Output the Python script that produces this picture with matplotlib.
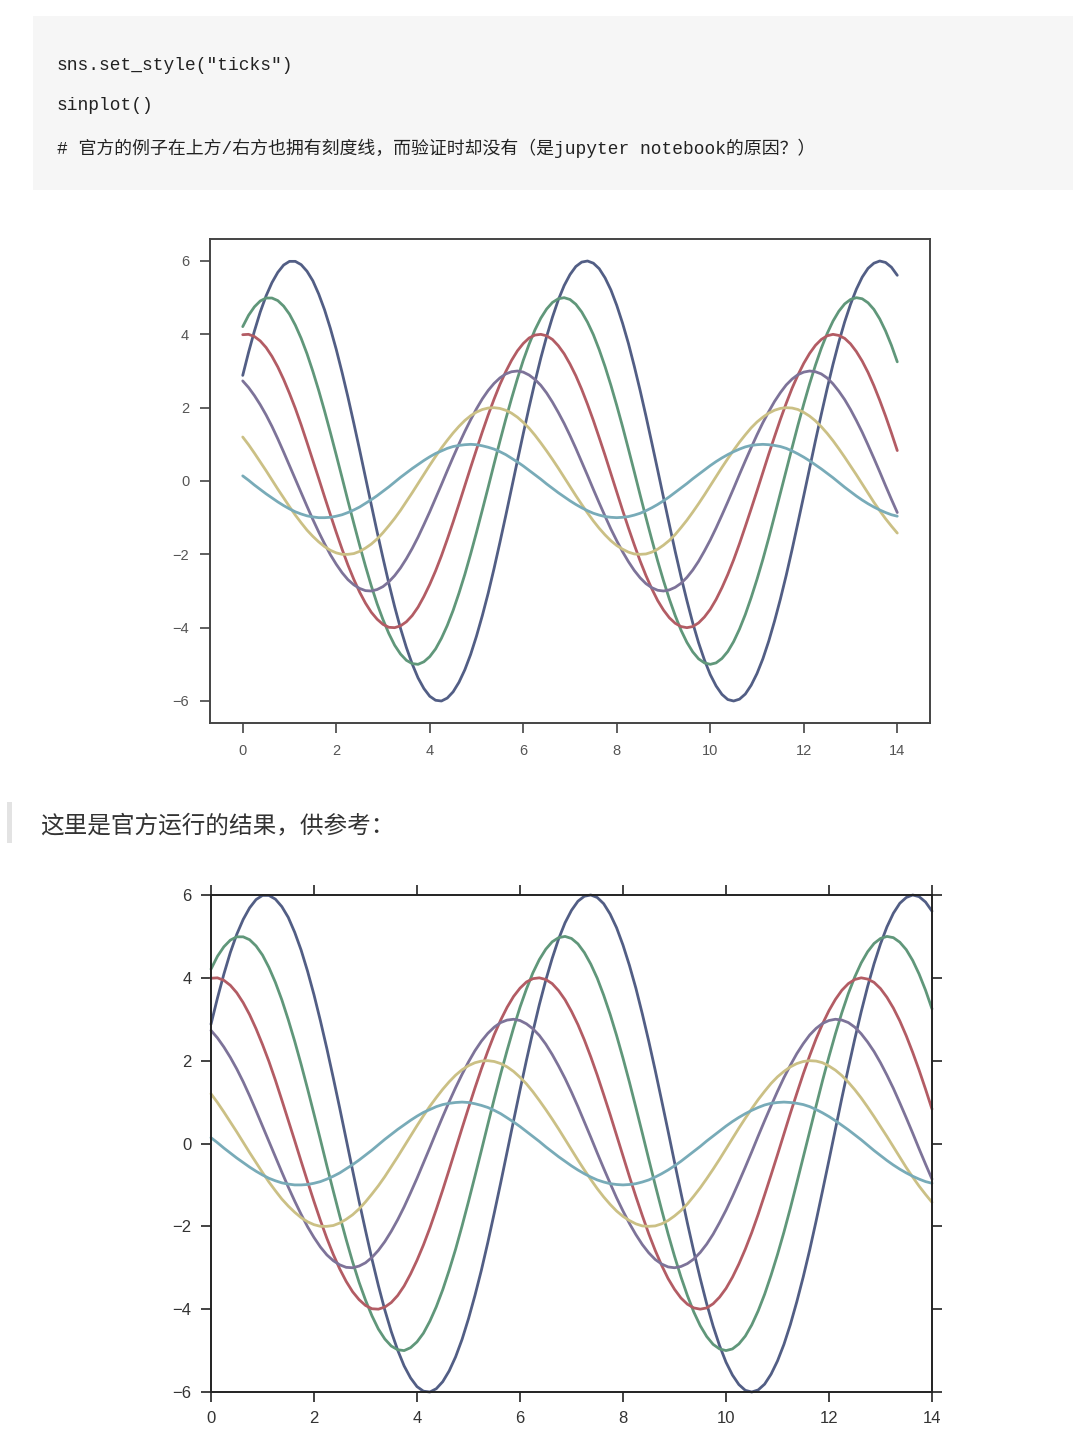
import numpy as np
import matplotlib
matplotlib.use("Agg")
import matplotlib.pyplot as plt
from matplotlib.patches import Rectangle

# six curves (amplitudes 6,5,4,3,2,1)
# values at x = 0, 0.25, ..., 14
s1 = [2.88, 4.09, 5.05, 5.69, 5.99, 5.90, 5.46, 4.67, 3.59, 2.29, 0.85, -0.65, -2.10, -3.43, -4.54,
      -5.37, -5.87, -6.00, -5.75, -5.15, -4.23, -3.06, -1.68, -0.20, 1.29, 2.70, 3.94, 4.94, 5.63,
      5.97, 5.94, 5.54, 4.79, 3.75, 2.47, 1.04, -0.45, -1.92, -3.26, -4.41, -5.28, -5.82, -6.00,
      -5.81, -5.25, -4.37, -3.22, -1.87, -0.40, 1.10, 2.52, 3.79, 4.82, 5.56, 5.94, 5.96, 5.61]
s2 = [4.21, 4.75, 4.99, 4.92, 4.55, 3.89, 2.99, 1.91, 0.71, -0.54, -1.75, -2.86, -3.78, -4.48,
      -4.89, -5.00, -4.79, -4.29, -3.53, -2.55, -1.40, -0.17, 1.08, 2.25, 3.29, 4.12, 4.69, 4.97,
      4.95, 4.61, 3.99, 3.12, 2.06, 0.87, -0.38, -1.60, -2.72, -3.67, -4.40, -4.85, -5.00, -4.84,
      -4.38, -3.64, -2.68, -1.56, -0.33, 0.91, 2.10, 3.16, 4.02, 4.63, 4.95, 4.97, 4.68, 4.09, 3.25]
s3 = [3.99, 3.94, 3.64, 3.11, 2.39, 1.53, 0.56, -0.43, -1.40, -2.29, -3.03, -3.58, -3.91, -4.00,
      -3.84, -3.44, -2.82, -2.04, -1.12, -0.13, 0.86, 1.80, 2.63, 3.29, 3.75, 3.98, 3.96, 3.69,
      3.19, 2.50, 1.65, 0.70, -0.30, -1.28, -2.18, -2.94, -3.52, -3.88, -4.00, -3.87, -3.50, -2.91,
      -2.15, -1.24, -0.27, 0.73, 1.68, 2.53, 3.21, 3.70, 3.96, 3.97, 3.74, 3.27, 2.60, 1.77, 0.83]
s4 = [2.73, 2.33, 1.80, 1.15, 0.42, -0.32, -1.05, -1.71, -2.27, -2.69, -2.93, -3.00, -2.88, -2.58,
      -2.12, -1.53, -0.84, -0.10, 0.65, 1.35, 1.97, 2.47, 2.81, 2.98, 2.97, 2.77, 2.40, 1.87, 1.24,
      0.52, -0.23, -0.96, -1.63, -2.20, -2.64, -2.91, -3.00, -2.90, -2.63, -2.19, -1.61, -0.93,
      -0.20, 0.55, 1.26, 1.89, 2.41, 2.78, 2.97, 2.98, 2.81, 2.45, 1.95, 1.33, 0.62, -0.13, -0.86]
s5 = [1.20, 0.76, 0.28, -0.22, -0.70, -1.14, -1.51, -1.79, -1.96, -2.00, -1.92, -1.72, -1.41,
      -1.02, -0.56, -0.07, 0.43, 0.90, 1.31, 1.65, 1.88, 1.99, 1.98, 1.85, 1.60, 1.25, 0.82, 0.35,
      -0.15, -0.64, -1.09, -1.47, -1.76, -1.94, -2.00, -1.94, -1.75, -1.46, -1.07, -0.62, -0.13,
      0.37, 0.84, 1.26, 1.61, 1.85, 1.98, 1.99, 1.87, 1.64, 1.30, 0.88, 0.41, -0.08, -0.58, -1.03, -1.42]
s6 = [0.14, -0.11, -0.35, -0.57, -0.76, -0.90, -0.98, -1.00, -0.96, -0.86, -0.71, -0.51, -0.28,
      -0.03, 0.22, 0.45, 0.66, 0.82, 0.94, 0.99, 0.99, 0.92, 0.80, 0.62, 0.41, 0.17, -0.08, -0.32,
      -0.54, -0.73, -0.88, -0.97, -1.00, -0.97, -0.88, -0.73, -0.54, -0.31, -0.07, 0.18, 0.42, 0.63,
      0.80, 0.93, 0.99, 0.99, 0.94, 0.82, 0.65, 0.44, 0.21, -0.04, -0.29, -0.52, -0.71, -0.86, -0.96]

# values at x = 0.125, 0.375, ..., 13.875
m1 = [3.51, 4.61, 5.41, 5.89, 5.99, 5.72, 5.10, 4.16, 2.96, 1.58, 0.10, -1.39, -2.79, -4.02,
      -4.99, -5.66, -5.98, -5.92, -5.49, -4.73, -3.67, -2.39, -0.95, 0.55, 2.01, 3.35, 4.47, 5.33,
      5.85, 6.00, 5.79, 5.21, 4.30, 3.13, 1.77, 0.30, -1.19, -2.61, -3.87, -4.88, -5.59, -5.96,
      -5.95, -5.57, -4.85, -3.82, -2.57, -1.14, 0.35, 1.82, 3.18, 4.34, 5.23, 5.80, 6.00, 5.83]
m2 = [4.52, 4.91, 4.99, 4.77, 4.25, 3.47, 2.47, 1.32, 0.09, -1.15, -2.32, -3.35, -4.16, -4.72,
      -4.98, -4.93, -4.58, -3.94, -3.06, -1.99, -0.79, 0.46, 1.68, 2.79, 3.73, 4.44, 4.87, 5.00,
      4.82, 4.33, 3.58, 2.61, 1.48, 0.25, -1.00, -2.18, -3.22, -4.07, -4.66, -4.96, -4.96, -4.65,
      -4.04, -3.18, -2.14, -0.95, 0.29, 1.52, 2.65, 3.62, 4.36, 4.83, 5.00, 4.86, 4.42, 3.70]
m3 = [4.00, 3.82, 3.40, 2.77, 1.98, 1.05, 0.07, -0.92, -1.86, -2.68, -3.33, -3.77, -3.99, -3.95,
      -3.67, -3.15, -2.45, -1.59, -0.63, 0.37, 1.34, 2.23, 2.98, 3.55, 3.90, 4.00, 3.86, 3.47,
      2.87, 2.09, 1.18, 0.20, -0.80, -1.74, -2.58, -3.26, -3.73, -3.97, -3.97, -3.71, -3.23, -2.55,
      -1.71, -0.76, 0.23, 1.21, 2.12, 2.89, 3.48, 3.86, 4.00, 3.89, 3.53, 2.96, 2.20, 1.31]
m4 = [2.55, 2.08, 1.49, 0.79, 0.05, -0.69, -1.39, -2.01, -2.50, -2.83, -2.99, -2.96, -2.75, -2.37,
      -1.84, -1.19, -0.47, 0.28, 1.01, 1.67, 2.24, 2.66, 2.92, 3.00, 2.89, 2.61, 2.15, 1.57,
      0.89, 0.15, -0.60, -1.31, -1.93, -2.44, -2.80, -2.98, -2.97, -2.79, -2.43, -1.91, -1.28, -0.57,
      0.18, 0.91, 1.59, 2.17, 2.62, 2.90, 3.00, 2.92, 2.65, 2.22, 1.65, 0.98, 0.25, -0.50]
m5 = [0.99, 0.52, 0.03, -0.46, -0.93, -1.34, -1.66, -1.89, -2.00, -1.98, -1.83, -1.58, -1.22, -0.80,
      -0.32, 0.18, 0.67, 1.11, 1.49, 1.78, 1.95, 2.00, 1.93, 1.74, 1.44, 1.04, 0.59, 0.10,
      -0.40, -0.87, -1.29, -1.63, -1.86, -1.99, -1.99, -1.86, -1.62, -1.27, -0.85, -0.38, 0.12, 0.61,
      1.06, 1.45, 1.74, 1.93, 2.00, 1.95, 1.77, 1.48, 1.10, 0.65, 0.17, -0.33, -0.81, -1.23]
m6 = [0.02, -0.23, -0.46, -0.67, -0.84, -0.95, -1.00, -0.99, -0.92, -0.79, -0.61, -0.40, -0.16, 0.10,
      0.34, 0.56, 0.75, 0.89, 0.97, 1.00, 0.96, 0.87, 0.72, 0.52, 0.29, 0.05, -0.20, -0.43,
      -0.64, -0.81, -0.93, -0.99, -0.99, -0.93, -0.81, -0.64, -0.43, -0.19, 0.06, 0.30, 0.53, 0.72,
      0.87, 0.97, 1.00, 0.97, 0.89, 0.74, 0.55, 0.33, 0.09, -0.17, -0.41, -0.62, -0.79, -0.92]

on_grid = [s1, s2, s3, s4, s5, s6]
mid_grid = [m1, m2, m3, m4, m5, m6]
colors = ['#525e85', '#60977a', '#b35c64', '#7d7399', '#cbc085', '#78abb8']

xticks = [0, 2, 4, 6, 8, 10, 12, 14]
yticks = [-6, -4, -2, 0, 2, 4, 6]

code_lines = ['sns.set_style("ticks")',
              'sinplot()',
              '# 官方的例子在上方/右方也拥有刻度线，而验证时却没有（是jupyter notebook的原因？）']
quote = '这里是官方运行的结果，供参考：'

# merge the two sample sets into one series each (x step 0.125)
x = np.linspace(0, 14, 113)
series = []
for s, m in zip(on_grid, mid_grid):
    y = np.empty(113)
    y[0::2] = s
    y[1::2] = m
    series.append(y)

W, H = 1080, 1451
fig = plt.figure(figsize=(W / 100, H / 100), dpi=100)
fig.patch.set_facecolor('white')

def fx(px):
    return px / W

def fy(py):
    return 1 - py / H

# code block
fig.patches.append(Rectangle((fx(33), fy(190)), fx(1073 - 33), (190 - 16) / H,
                             transform=fig.transFigure, facecolor='#f6f6f6', edgecolor='none', zorder=0))
mono = ['Liberation Mono', 'Noto Sans CJK SC']
for yy, txt in zip([66, 106, 148], code_lines):
    fig.text(fx(57), fy(yy), txt, family=mono, fontsize=12.9, color='#222222', va='center', ha='left')

# quote line
fig.patches.append(Rectangle((fx(7), fy(843)), fx(5), 41 / H, transform=fig.transFigure,
                             facecolor='#e3e3e3', edgecolor='none'))
fig.text(fx(40), fy(826), quote, family=['Noto Sans CJK SC', 'DejaVu Sans'], fontsize=17,
         color='#333333', va='center', ha='left')

line_kw = dict(lw=2.0, solid_joinstyle='round', solid_capstyle='round')

# chart 1 : what the author got (ticks only left/bottom)
ax1 = fig.add_axes([fx(210), fy(723), fx(720), 484 / H])
for y, c in zip(series, colors):
    ax1.plot(x, y, color=c, **line_kw)
ax1.set_xticks(xticks)
ax1.set_yticks(yticks)
for sp in ax1.spines.values():
    sp.set_color('#444444')
    sp.set_linewidth(1.4)
ax1.tick_params(direction='out', length=7, width=1.2, color='#444444', labelcolor='#555555',
                labelsize=10.5, pad=8, top=False, right=False)
for lab in ax1.get_xticklabels() + ax1.get_yticklabels():
    lab.set_family('Liberation Sans')

# chart 2 : the official result (ticks on all four sides)
ax2 = fig.add_axes([fx(211), fy(1392), fx(721), 497 / H])
for y, c in zip(series, colors):
    ax2.plot(x, y, color=c, clip_on=False, **line_kw)
ax2.set_xlim(0, 14)
ax2.set_ylim(-6, 6)
ax2.set_xticks(xticks)
ax2.set_yticks(yticks)
for sp in ax2.spines.values():
    sp.set_color('#222222')
    sp.set_linewidth(1.4)
ax2.tick_params(direction='out', length=7, width=1.2, color='#222222', labelcolor='#333333',
                labelsize=12, pad=7, top=True, right=True)
for lab in ax2.get_xticklabels() + ax2.get_yticklabels():
    lab.set_family('Liberation Sans')

fig.savefig('out.png', dpi=100, facecolor='white')
